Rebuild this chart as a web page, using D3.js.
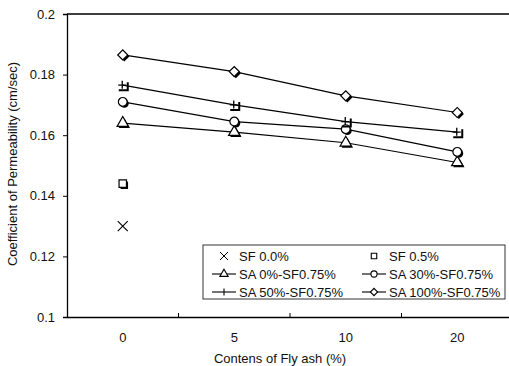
<!DOCTYPE html>
<html>
<head>
<meta charset="utf-8">
<script src="https://cdn.jsdelivr.net/npm/d3@7"></script>
<style>
  html, body { margin: 0; padding: 0; background: #fff; }
  svg { display: block; font-family: "Liberation Sans", Arial, sans-serif; }
</style>
</head>
<body>
<svg id="chart" width="509" height="366"></svg>
<script>
// Fly ash content categories (x axis)
const flyAsh = ["0", "5", "10", "20"];
const yTicks = [0.1, 0.12, 0.14, 0.16, 0.18, 0.2];

// Coefficient of permeability (cm/sec)
const sf00 = [0.130];
const sf05 = [0.144];
const sa0 = [0.164, 0.161, 0.1575, 0.151];
const sa30 = [0.171, 0.1645, 0.162, 0.1545];
const sa50 = [0.1765, 0.170, 0.1645, 0.161];
const sa100 = [0.1865, 0.181, 0.173, 0.1675];

const series = [
  { name: "SF 0.0%", values: sf00, symbol: "cross", line: false },
  { name: "SF 0.5%", values: sf05, symbol: "square", line: false },
  { name: "SA 0%-SF0.75%", values: sa0, symbol: "triangle", line: true },
  { name: "SA 30%-SF0.75%", values: sa30, symbol: "circle", line: true },
  { name: "SA 50%-SF0.75%", values: sa50, symbol: "plus", line: true },
  { name: "SA 100%-SF0.75%", values: sa100, symbol: "diamond", line: true }
];

const svg = d3.select("#chart");
const plotLeft = 67, plotTop = 14, plotBottom = 317, plotRight = 513;

const x = d3.scaleBand().domain(flyAsh).range([plotLeft, plotRight]);
const y = d3.scaleLinear().domain([0.1, 0.2]).range([plotBottom, plotTop]);
const cx = d => x(d) + x.bandwidth() / 2;

// Frame: top edge
svg.append("line").attr("x1", plotLeft).attr("x2", plotRight).attr("y1", plotTop).attr("y2", plotTop)
  .attr("stroke", "#000").attr("stroke-width", 1.3);

// Y axis
const yAxis = svg.append("g").attr("transform", `translate(${plotLeft},0)`)
  .call(d3.axisLeft(y).tickValues(yTicks).tickSize(4).tickPadding(8)
    .tickFormat(d => d3.format("")(+d.toFixed(2))));
yAxis.select(".domain").attr("stroke-width", 1.3);
yAxis.selectAll("text").attr("font-size", 13).attr("fill", "#111");

// X axis with ticks between categories pointing inward
const xAxis = svg.append("g").attr("transform", `translate(0,${plotBottom})`)
  .call(d3.axisBottom(x).tickSize(0).tickPadding(16));
xAxis.select(".domain").attr("stroke-width", 1.3);
xAxis.selectAll("text").attr("font-size", 13).attr("fill", "#111");
flyAsh.slice(1).forEach(c => {
  svg.append("line").attr("x1", x(c)).attr("x2", x(c))
    .attr("y1", plotBottom).attr("y2", plotBottom - 4).attr("stroke", "#000");
});

// Axis titles
svg.append("text").attr("x", 280).attr("y", 363).attr("text-anchor", "middle")
  .attr("font-size", 13).attr("fill", "#111").text("Contens of Fly ash (%)");
svg.append("text").attr("transform", "translate(17,164) rotate(-90)")
  .attr("text-anchor", "middle").attr("font-size", 13).attr("fill", "#111")
  .text("Coefficient of Permeability (cm/sec)");

// Marker shapes
function symbolPath(sym, size) {
  const types = {
    triangle: d3.symbolTriangle, circle: d3.symbolCircle,
    square: d3.symbolSquare, diamond: d3.symbolSquare
  };
  return d3.symbol().type(types[sym]).size(size)();
}
function shapeTransform(sym, px, py) {
  return `translate(${px},${py})` + (sym === "diamond" ? " rotate(45)" : "");
}
function drawMarker(g, sym, px, py, size, shadow) {
  if (sym === "cross") {
    const s = 5;
    g.append("path").attr("d", `M${px - s},${py - s}L${px + s},${py + s}M${px - s},${py + s}L${px + s},${py - s}`)
      .attr("stroke", "#000").attr("stroke-width", 1.1).attr("fill", "none");
    return;
  }
  if (sym === "plus") {
    if (shadow) {
      g.append("path").attr("d", `M${px - 4},${py + 5}L${px + 5},${py + 5}L${px + 5},${py - 3}`)
        .attr("stroke", "#000").attr("stroke-width", 2).attr("fill", "none");
    }
    g.append("path").attr("d", `M${px - 4.5},${py}L${px + 3.5},${py}M${px - 0.5},${py - 4.5}L${px - 0.5},${py + 3.5}`)
      .attr("stroke", "#000").attr("stroke-width", 1.3).attr("fill", "none");
    return;
  }
  if (shadow) {
    g.append("path").attr("d", symbolPath(sym, size))
      .attr("transform", shapeTransform(sym, px + 1.6, py + 1.6)).attr("fill", "#000");
  }
  g.append("path").attr("d", symbolPath(sym, size))
    .attr("transform", shapeTransform(sym, px, py))
    .attr("fill", "#fff").attr("stroke", "#000").attr("stroke-width", 1.2);
}
const markerSize = { triangle: 55, circle: 60, square: 55, diamond: 50 };

const plot = svg.append("g");
const lineGen = d3.line().x((d, i) => cx(flyAsh[i])).y(d => y(d));
series.filter(s => s.line).forEach(s => {
  plot.append("path").attr("d", lineGen(s.values))
    .attr("fill", "none").attr("stroke", "#000").attr("stroke-width", 1.2);
});
series.forEach(s => {
  s.values.forEach((v, i) =>
    drawMarker(plot, s.symbol, cx(flyAsh[i]), y(v), markerSize[s.symbol], true));
});

// Legend
const lg = svg.append("g");
lg.append("rect").attr("x", 203).attr("y", 245).attr("width", 302).attr("height", 54)
  .attr("fill", "#fff").attr("stroke", "#333").attr("stroke-width", 1);
series.forEach((s, i) => {
  const col = i % 2, row = Math.floor(i / 2);
  const sx = col === 0 ? 224 : 374;
  const sy = 256 + row * 18;
  if (s.line) {
    lg.append("line").attr("x1", sx - 12).attr("x2", sx + 12).attr("y1", sy).attr("y2", sy)
      .attr("stroke", "#000").attr("stroke-width", 1.1);
  }
  if (s.symbol === "cross") {
    lg.append("path").attr("d", `M${sx - 4},${sy - 4}L${sx + 4},${sy + 4}M${sx - 4},${sy + 4}L${sx + 4},${sy - 4}`)
      .attr("stroke", "#000").attr("stroke-width", 1);
  } else if (s.symbol === "plus") {
    lg.append("path").attr("d", `M${sx},${sy - 3.5}L${sx},${sy + 3.5}`)
      .attr("stroke", "#000").attr("stroke-width", 1.1);
  } else {
    lg.append("path").attr("d", symbolPath(s.symbol, s.symbol === "diamond" ? 26 : 30))
      .attr("transform", shapeTransform(s.symbol, sx, sy))
      .attr("fill", "#fff").attr("stroke", "#000").attr("stroke-width", 1.1);
  }
  lg.append("text").attr("x", sx + 15).attr("y", sy + 5)
    .attr("font-size", 13).attr("fill", "#111").attr("textLength", null).text(s.name);
});
</script>
</body>
</html>
